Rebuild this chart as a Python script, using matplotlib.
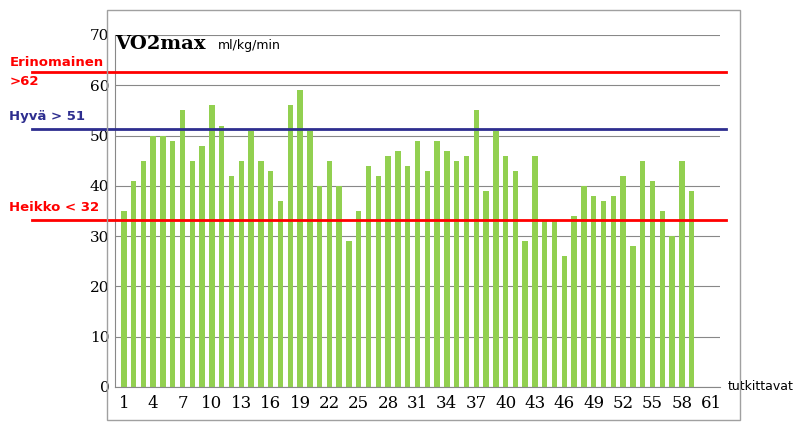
import numpy as np
import matplotlib.pyplot as plt
from matplotlib.patches import Rectangle

# VO2max per subject
subjects = np.arange(1, 60)
vo2max = [35, 41, 45, 50, 50, 49, 55, 45, 48, 56, 52, 42, 45, 51, 45, 43, 37, 56, 59, 51,
          40, 45, 40, 29, 35, 44, 42, 46, 47, 44, 49, 43, 49, 47, 45, 46, 55, 39, 51, 46,
          43, 29, 46, 33, 33, 26, 34, 40, 38, 37, 38, 42, 28, 45, 41, 35, 30, 45, 39]

# reference levels
levels = [62.6, 51.3, 33.2]
level_colors = ["#ff0000", "#2e2e8f", "#ff0000"]
level_labels = ["Erinomainen\n>62", "Hyvä > 51", "Heikko < 32"]
label_colors = ["#ff0000", "#2e2e8f", "#ff0000"]

fig = plt.figure(figsize=(7.95, 4.26), dpi=100)
fig.patches.append(Rectangle((107 / 795, 6 / 426), 633 / 795, 410 / 426, transform=fig.transFigure,
                             fill=False, edgecolor="#a0a0a0", lw=1))
ax = fig.add_axes([115 / 795, 39 / 426, 605 / 795, 352 / 426])

ax.bar(subjects, vo2max, width=0.55, color="#92d050", zorder=2)
ax.set_xlim(0.1, 61.9)
ax.set_ylim(0, 70)
ax.set_yticks(range(0, 71, 10))
ax.set_xticks(range(1, 62, 3))
ax.grid(axis="y", color="#888888", lw=0.8, zorder=0)
for s in ["top", "right"]:
    ax.spines[s].set_visible(False)
ax.spines["left"].set_color("#888888")
ax.spines["bottom"].set_color("#888888")
ax.tick_params(axis="x", labelsize=12, length=0, pad=6)
ax.tick_params(axis="y", labelsize=11, length=0, pad=4)
for t in ax.get_xticklabels() + ax.get_yticklabels():
    t.set_fontfamily("DejaVu Serif")

for lev, c in zip(levels, level_colors):
    ax.plot([-8.4, 62.5], [lev, lev], color=c, lw=2, clip_on=False, zorder=3)

for lev, lab, c in zip(levels, level_labels, label_colors):
    va = "center" if "\n" in lab else "bottom"
    y = lev if "\n" in lab else lev + 1.2
    ax.text(-10.7, y, lab, color=c, fontsize=9.5, fontweight="bold", ha="left", va=va,
            linespacing=1.6)

ax.text(0.0, 1.0, "VO2max", transform=ax.transAxes, fontsize=14, fontweight="bold",
        fontfamily="DejaVu Serif", va="top")
ax.text(0.17, 0.99, "ml/kg/min", transform=ax.transAxes, fontsize=9, va="top")
ax.text(1.013, 0.0, "tutkittavat", transform=ax.transAxes, fontsize=9, va="center")

fig.savefig("out.png", dpi=100)
